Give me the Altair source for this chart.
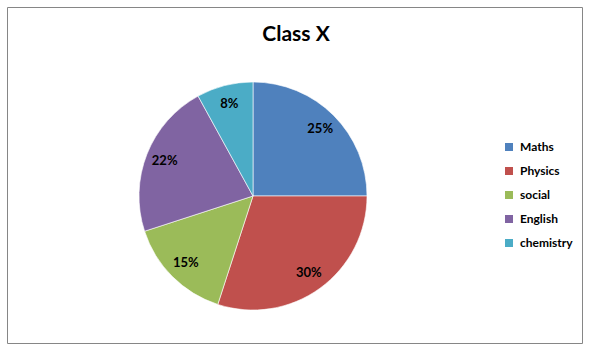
import altair as alt
import pandas as pd

subjects = ["Maths", "Physics", "social", "English", "chemistry"]
percents = [25, 30, 15, 22, 8]
colors = ["#4F81BD", "#C0504D", "#9BBB59", "#8064A2", "#4BACC6"]
title_text = "Class X"

df = pd.DataFrame({
    "subject": subjects,
    "value": percents,
    "idx": list(range(len(subjects))),
    "label": [f"{p}%" for p in percents],
})

CX, CY = 253, 196

base = alt.Chart(df).encode(
    theta=alt.Theta("value:Q", stack=True),
    order=alt.Order("idx:Q"),
    x=alt.value(CX),
    y=alt.value(CY),
)

pie = base.mark_arc(outerRadius=114, stroke="white", strokeWidth=0.6).encode(
    color=alt.Color(
        "subject:N",
        scale=alt.Scale(domain=subjects, range=colors),
        sort=subjects,
        legend=alt.Legend(
            title=None,
            orient="none",
            legendX=503,
            legendY=141,
            symbolType="square",
            symbolSize=64,
            symbolStrokeWidth=0,
            labelFont="Lato",
            labelFontWeight="bold",
            labelFontSize=12,
            labelColor="#000000",
            labelOffset=5,
            rowPadding=12,
            padding=0,
        ),
    )
)

labels = base.mark_text(
    radius=95, font="Lato", fontWeight="bold", fontSize=13, color="#000000"
).encode(text="label:N")

title_df = pd.DataFrame({"t": [title_text]})
title = alt.Chart(title_df).mark_text(
    font="Lato", fontWeight="bold", fontSize=21, color="#000000", baseline="alphabetic"
).encode(text="t:N", x=alt.value(296), y=alt.value(41))

border = alt.Chart(title_df).mark_rect(
    fillOpacity=0, stroke="#868686", strokeWidth=1
).encode(x=alt.value(7.5), x2=alt.value(582.5), y=alt.value(7.5), y2=alt.value(343.5))

chart = alt.layer(border, pie, labels, title).properties(
    width=596, height=360, autosize=alt.AutoSizeParams(type="none"), padding=0,
    background="white",
).configure_view(stroke=None)

chart.save("out.html", embed_options={"renderer": "svg", "actions": False})
